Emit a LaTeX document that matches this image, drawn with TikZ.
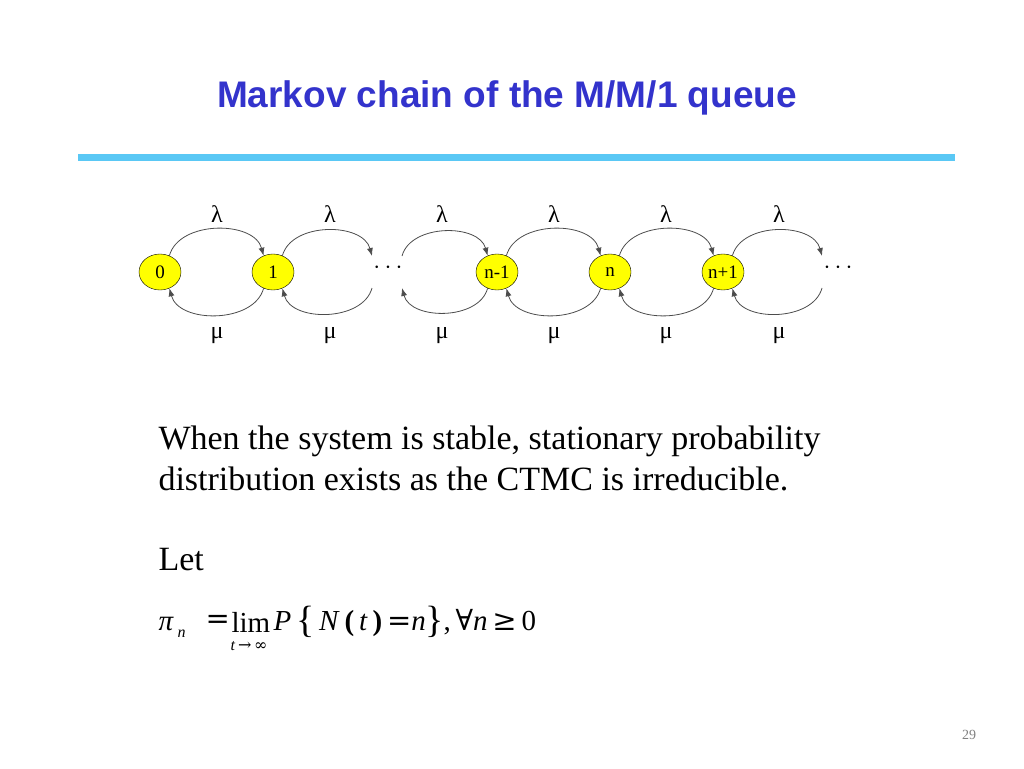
\documentclass[tikz,border=0pt]{standalone}
\usepackage{fontspec}
\setmainfont{Liberation Serif}
\newfontfamily\titlefont{Liberation Sans}
\newfontfamily\symfont{DejaVu Serif}
\usetikzlibrary{arrows.meta,shapes.geometric}
\definecolor{titleblue}{RGB}{51,51,204}
\definecolor{barblue}{RGB}{90,200,245}
\definecolor{nodeyel}{RGB}{255,255,0}
\begin{document}
\begin{tikzpicture}[x=1pt,y=-1pt,
  st/.style={ellipse,draw=black,fill=nodeyel,minimum width=42pt,minimum height=36pt,inner sep=0pt,font=\fontsize{19}{21}\selectfont},
  arc/.style={draw=black!70,line width=0.8pt,-{Latex[length=8pt,width=6pt]}},
  lab/.style={font=\fontsize{24}{26}\selectfont}]
\useasboundingbox (0,0) rectangle (1024,768);
\node[font=\titlefont\bfseries\fontsize{37}{42}\selectfont,text=titleblue] (title) at (507,98) {Markov chain of the M/M/1 queue};
\fill[barblue] (78,153.5) rectangle (955,160.5);
\node[st] (s0) at (160,272) {0};
\node[st] (s1) at (273,272) {1};
\node[font=\fontsize{24}{26}\selectfont] (d1) at (388,268) {$\cdots$};
\node[st] (s2) at (497,272) {n-1};
\node[st] (s3) at (610,272) {n};
\node[st] (s4) at (723,272) {n+1};
\node[font=\fontsize{24}{26}\selectfont] (d2) at (838,268) {$\cdots$};
\coordinate (a1) at (372,256); \coordinate (b1) at (372,288);
\coordinate (a2) at (402,256); \coordinate (b2) at (402,288);
\coordinate (a3) at (822,256); \coordinate (b3) at (822,288);
\tikzset{up/.style={out=75,in=105,looseness=1},dn/.style={out=-105,in=-75,looseness=1}}
\draw[arc] (s0.60) to[up] (s1.120);
\draw[arc] (s1.60) to[up] (a1);
\draw[arc] (a2) to[up] (s2.120);
\draw[arc] (s2.60) to[up] (s3.120);
\draw[arc] (s3.60) to[up] (s4.120);
\draw[arc] (s4.60) to[up] (a3);
\draw[arc] (s1.-120) to[dn] (s0.-60);
\draw[arc] (b1) to[dn] (s1.-60);
\draw[arc] (s2.-120) to[dn] (b2);
\draw[arc] (s3.-120) to[dn] (s2.-60);
\draw[arc] (s4.-120) to[dn] (s3.-60);
\draw[arc] (b3) to[dn] (s4.-60);
\foreach \x [count=\i] in {217,330,442,554,666,779}{
  \node[lab] (l\i) at (\x,214) {λ};
  \node[lab] (m\i) at (\x,336) {μ};
}
\node[anchor=west,align=left,font=\fontsize{34}{41}\selectfont] (txt) at (155,458) {When the system is stable, stationary probability\\distribution exists as the CTMC is irreducible.};
\node[anchor=west,font=\fontsize{34}{38}\selectfont] (let) at (155,560) {Let};
\node[anchor=west,font=\fontsize{29}{32}\selectfont] (pi) at (155,624) {\textit{π}};
\node[anchor=west,font=\fontsize{16}{18}\selectfont] (pisub) at (174,634) {\textit{n}};
\node[anchor=west,font=\fontsize{29}{32}\selectfont] (eq1) at (202,622) {\symfont =};
\node[anchor=west,font=\fontsize{29}{32}\selectfont] (lim) at (228,622) {lim};
\node[anchor=north,font=\fontsize{16}{18}\selectfont] (limsub) at (249,638) {\textit{t}\,\symfont →\,∞};
\node[anchor=west,font=\fontsize{29}{32}\selectfont] (rest) at (270,622) {\textit{P}\,\raisebox{-2pt}{\fontsize{38}{40}\selectfont\{}\,\textit{N}\,\textbf{(}\,\textit{t}\,\textbf{)}\,{\symfont =}\textit{n}\raisebox{-2pt}{\fontsize{38}{40}\selectfont\}}};
\node[anchor=west,font=\fontsize{29}{32}\selectfont] (rest2) at (440,622) {,\,{\symfont ∀}\textit{n}\,{\symfont ≥}\,0};
\node[text=gray,font=\fontsize{14}{16}\selectfont] (pg) at (969,735) {29};
\end{tikzpicture}
\end{document}
